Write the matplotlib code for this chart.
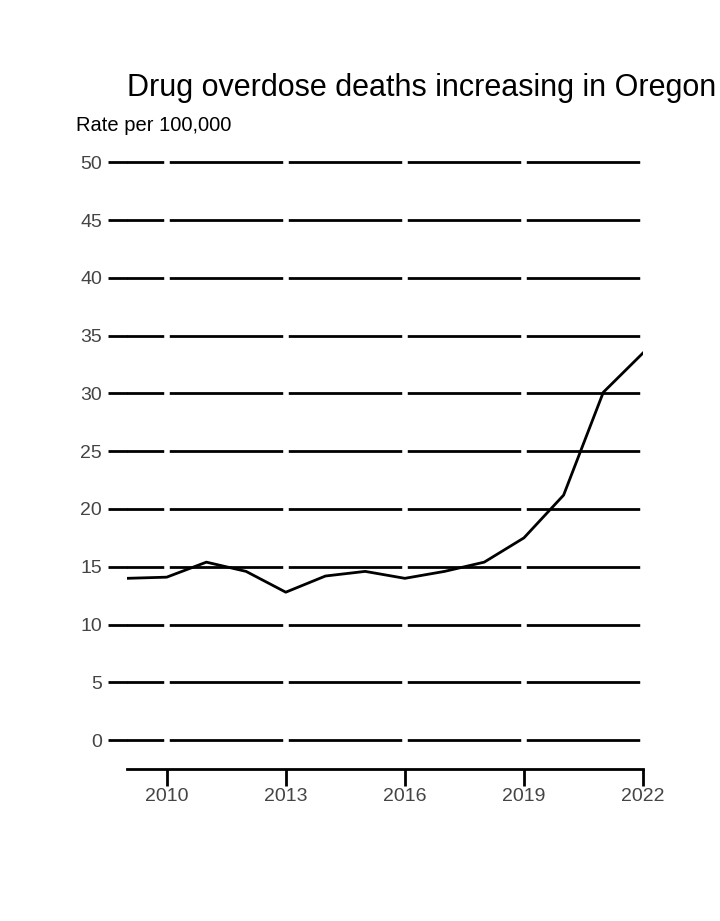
import matplotlib
matplotlib.use("Agg")
import matplotlib.pyplot as plt

years = [2009, 2010, 2011, 2012, 2013, 2014, 2015, 2016, 2017, 2018, 2019, 2020, 2021, 2022]
rates = [14.0, 14.1, 15.4, 14.6, 12.8, 14.2, 14.6, 14.0, 14.6, 15.4, 17.5, 21.2, 30.1, 33.5]
xticks = [2010, 2013, 2016, 2019, 2022]
yticks = list(range(0, 55, 5))

fig = plt.figure(figsize=(7.2, 9.21), dpi=100)
ax = fig.add_axes([127/720, 1-769/921, (643-127)/720, (769-160)/921])
ax.set_xlim(2009, 2022)
ax.set_ylim(-2.5, 50.2)
for y in yticks:
    ax.axhline(y, color='black', lw=2, zorder=1)
for x in xticks:
    ax.axvline(x, color='white', lw=4, zorder=2)
ax.plot(years, rates, color='black', lw=2, zorder=3)
for s in ['top', 'right', 'left']:
    ax.spines[s].set_visible(False)
ax.spines['bottom'].set_linewidth(2)
ax.set_xticks(xticks)
ax.set_yticks(yticks)
ax.tick_params(axis='y', length=14, width=2, colors='black', labelcolor='#444444', labelsize=14, pad=4)
ax.tick_params(axis='x', length=12, width=2, labelcolor='#444444', labelsize=14, pad=2)
for l in ax.get_xticklabels() + ax.get_yticklabels():
    l.set_family('Liberation Sans')
fig.text(127/720, 1-88/921, "Drug overdose deaths increasing in Oregon", fontsize=22,
         family='Liberation Sans', va='center', ha='left')
fig.text(76/720, 1-125/921, "Rate per 100,000", fontsize=14.5,
         family='Liberation Sans', va='center', ha='left')
fig.savefig("out.png", dpi=100)
